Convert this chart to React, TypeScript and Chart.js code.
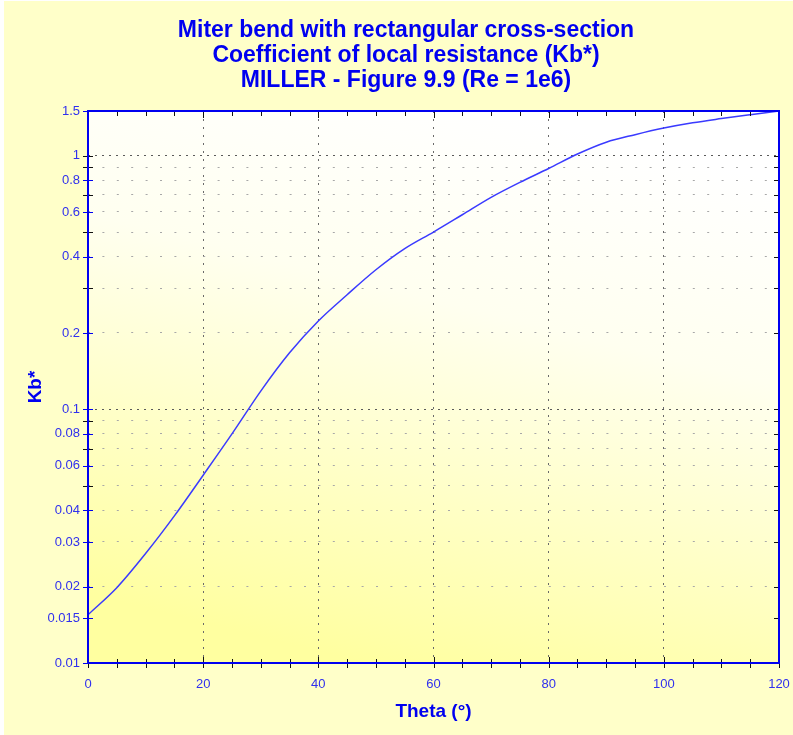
import React, { useEffect, useRef } from "react";
import { Chart, registerables } from "chart.js";

Chart.register(...registerables);

// ---- Data ----
const THETA = [0, 5, 10, 15, 20, 25, 30, 35, 40, 45, 50, 55, 60, 65, 70, 75, 80, 85, 90, 95, 100, 105, 110, 115, 120];
const KB = [0.0155, 0.0198, 0.027, 0.038, 0.055, 0.08, 0.118, 0.167, 0.223, 0.283, 0.355, 0.43, 0.5, 0.585, 0.685, 0.785, 0.89, 1.015, 1.13, 1.21, 1.285, 1.348, 1.4, 1.45, 1.5];

const X_TICKS = [0, 5, 10, 15, 20, 25, 30, 35, 40, 45, 50, 55, 60, 65, 70, 75, 80, 85, 90, 95, 100, 105, 110, 115, 120];
const X_MAJOR = [0, 20, 40, 60, 80, 100, 120];
const Y_TICKS = [0.01, 0.015, 0.02, 0.03, 0.04, 0.05, 0.06, 0.07, 0.08, 0.09, 0.1, 0.2, 0.3, 0.4, 0.5, 0.6, 0.7, 0.8, 0.9, 1, 1.5];
const Y_TICK_LABELS = ["0.01", "0.015", "0.02", "0.03", "0.04", "", "0.06", "", "0.08", "", "0.1", "0.2", "", "0.4", "", "0.6", "", "0.8", "", "1", "1.5"];
const Y_MAJOR_GRID = [0.1, 1];
const Y_MINOR_GRID = [0.02, 0.03, 0.04, 0.05, 0.06, 0.07, 0.08, 0.09, 0.2, 0.3, 0.4, 0.5, 0.6, 0.7, 0.8, 0.9];

const TITLE_LINES = [
  "Miter bend with rectangular cross-section",
  "Coefficient of local resistance (Kb*)",
  "MILLER - Figure 9.9 (Re = 1e6)",
];
const X_TITLE = "Theta (°)";
const Y_TITLE = "Kb*";

const FONT = '"Liberation Sans", Arial, Helvetica, sans-serif';
const BLUE = "#0000f0";
const LABEL_BLUE = "#3030ee";

const near = (a: number, b: number) => Math.abs(a - b) < 1e-9;

export default function App() {
  const ref = useRef<HTMLCanvasElement>(null);

  useEffect(() => {
    document.body.style.margin = "0";
    const canvas = ref.current;
    if (!canvas) return;

    const decor = {
      id: "decor",
      beforeDraw(chart: any) {
        const { ctx, chartArea: a, width, height } = chart;
        ctx.save();
        ctx.fillStyle = "#ffffff";
        ctx.fillRect(0, 0, width, height);
        ctx.fillStyle = "#ffffc9";
        ctx.fillRect(4, 1, width - 4, height - 1);
        const w = a.right - a.left;
        const g = ctx.createLinearGradient(a.left + w * 0.6, a.top, a.left + w * 0.4, a.bottom);
        g.addColorStop(0, "#ffffff");
        g.addColorStop(0.35, "#fffff0");
        g.addColorStop(1, "#ffffa0");
        ctx.fillStyle = g;
        ctx.fillRect(a.left, a.top, w, a.bottom - a.top);
        ctx.restore();
      },
      afterDraw(chart: any) {
        const { ctx, chartArea: a } = chart;
        const xs = chart.scales.x;
        const ys = chart.scales.y;
        ctx.save();
        ctx.lineWidth = 1;
        Y_TICKS.forEach((v, i) => {
          const py = Math.round(ys.getPixelForValue(v)) + 0.5;
          const labeled = Y_TICK_LABELS[i] !== "";
          ctx.strokeStyle = labeled && !near(v, 1) ? BLUE : "#111111";
          ctx.beginPath();
          ctx.moveTo(a.left - 5, py);
          ctx.lineTo(a.left + 5, py);
          ctx.stroke();
          ctx.strokeStyle = "#111111";
          ctx.beginPath();
          ctx.moveTo(a.right - 5, py);
          ctx.lineTo(a.right, py);
          ctx.stroke();
        });
        X_TICKS.forEach((v) => {
          const px = Math.round(xs.getPixelForValue(v)) + 0.5;
          const major = X_MAJOR.includes(v);
          ctx.strokeStyle = "#111111";
          ctx.beginPath();
          ctx.moveTo(px, a.bottom - (major ? 6 : 4));
          ctx.lineTo(px, a.bottom + 5);
          ctx.stroke();
          ctx.beginPath();
          ctx.moveTo(px, a.top);
          ctx.lineTo(px, a.top + (major ? 7 : 5));
          ctx.stroke();
        });
        ctx.strokeStyle = BLUE;
        ctx.lineWidth = 2;
        ctx.strokeRect(a.left, a.top, a.right - a.left, a.bottom - a.top);

        ctx.fillStyle = BLUE;
        ctx.textAlign = "center";
        ctx.textBaseline = "middle";
        ctx.font = `bold 23px ${FONT}`;
        TITLE_LINES.forEach((t, i) => ctx.fillText(t, 406, 31 + i * 25));
        ctx.font = `bold 19px ${FONT}`;
        ctx.fillText(X_TITLE, (a.left + a.right) / 2, 712);
        ctx.save();
        ctx.translate(36, (a.top + a.bottom) / 2);
        ctx.rotate(-Math.PI / 2);
        ctx.fillText(Y_TITLE, 0, 0);
        ctx.restore();
        ctx.restore();
      },
    };

    const chart = new Chart(canvas, {
      type: "line",
      data: {
        datasets: [
          {
            data: THETA.map((x, i) => ({ x, y: KB[i] })),
            borderColor: "#3a3aff",
            borderWidth: 1.5,
            pointRadius: 0,
            fill: false,
            cubicInterpolationMode: "monotone",
          },
        ],
      },
      options: {
        animation: false,
        responsive: false,
        devicePixelRatio: 1,
        layout: { padding: { top: 111, right: 14, bottom: 0, left: 0 } },
        plugins: { legend: { display: false }, title: { display: false }, tooltip: { enabled: false } },
        scales: {
          x: {
            type: "linear",
            min: 0,
            max: 120,
            afterBuildTicks: (s: any) => {
              s.ticks = X_TICKS.map((v) => ({ value: v }));
            },
            afterFit: (s: any) => {
              s.height = 72;
              s.paddingLeft = 0;
              s.paddingRight = 0;
            },
            ticks: {
              autoSkip: false,
              maxRotation: 0,
              padding: 14,
              color: LABEL_BLUE,
              font: { family: FONT, size: 13 },
              callback: (v: any) => (X_MAJOR.includes(Number(v)) ? String(v) : ""),
            },
            grid: {
              drawTicks: false,
              lineWidth: 1,
              color: (c: any) => {
                const v = c.tick ? c.tick.value : NaN;
                return X_MAJOR.includes(v) && v !== 0 && v !== 120 ? "#6a6a6a" : "rgba(0,0,0,0)";
              },
            },
            border: { display: false, dash: [2, 6] },
          },
          y: {
            type: "logarithmic",
            min: 0.01,
            max: 1.5,
            afterBuildTicks: (s: any) => {
              s.ticks = Y_TICKS.map((v) => ({ value: v }));
            },
            afterFit: (s: any) => {
              s.width = 88;
              s.paddingTop = 0;
              s.paddingBottom = 0;
            },
            ticks: {
              autoSkip: false,
              padding: 8,
              color: LABEL_BLUE,
              font: { family: FONT, size: 13 },
              callback: (_v: any, i: number) => Y_TICK_LABELS[i],
            },
            grid: {
              drawTicks: false,
              lineWidth: 1,
              color: (c: any) => {
                const v = c.tick ? c.tick.value : NaN;
                if (Y_MAJOR_GRID.some((m) => near(m, v))) return "#5a5a5a";
                if (Y_MINOR_GRID.some((m) => near(m, v))) return "#a8a8a8";
                return "rgba(0,0,0,0)";
              },
            },
            border: {
              display: false,
              dash: (c: any) => {
                const v = c.tick ? c.tick.value : NaN;
                return Y_MAJOR_GRID.some((m) => near(m, v)) ? [2, 5] : [2, 12.4];
              },
            },
          },
        },
      } as any,
      plugins: [decor],
    });

    return () => chart.destroy();
  }, []);

  return <canvas ref={ref} width={793} height={735} style={{ display: "block" }} />;
}
